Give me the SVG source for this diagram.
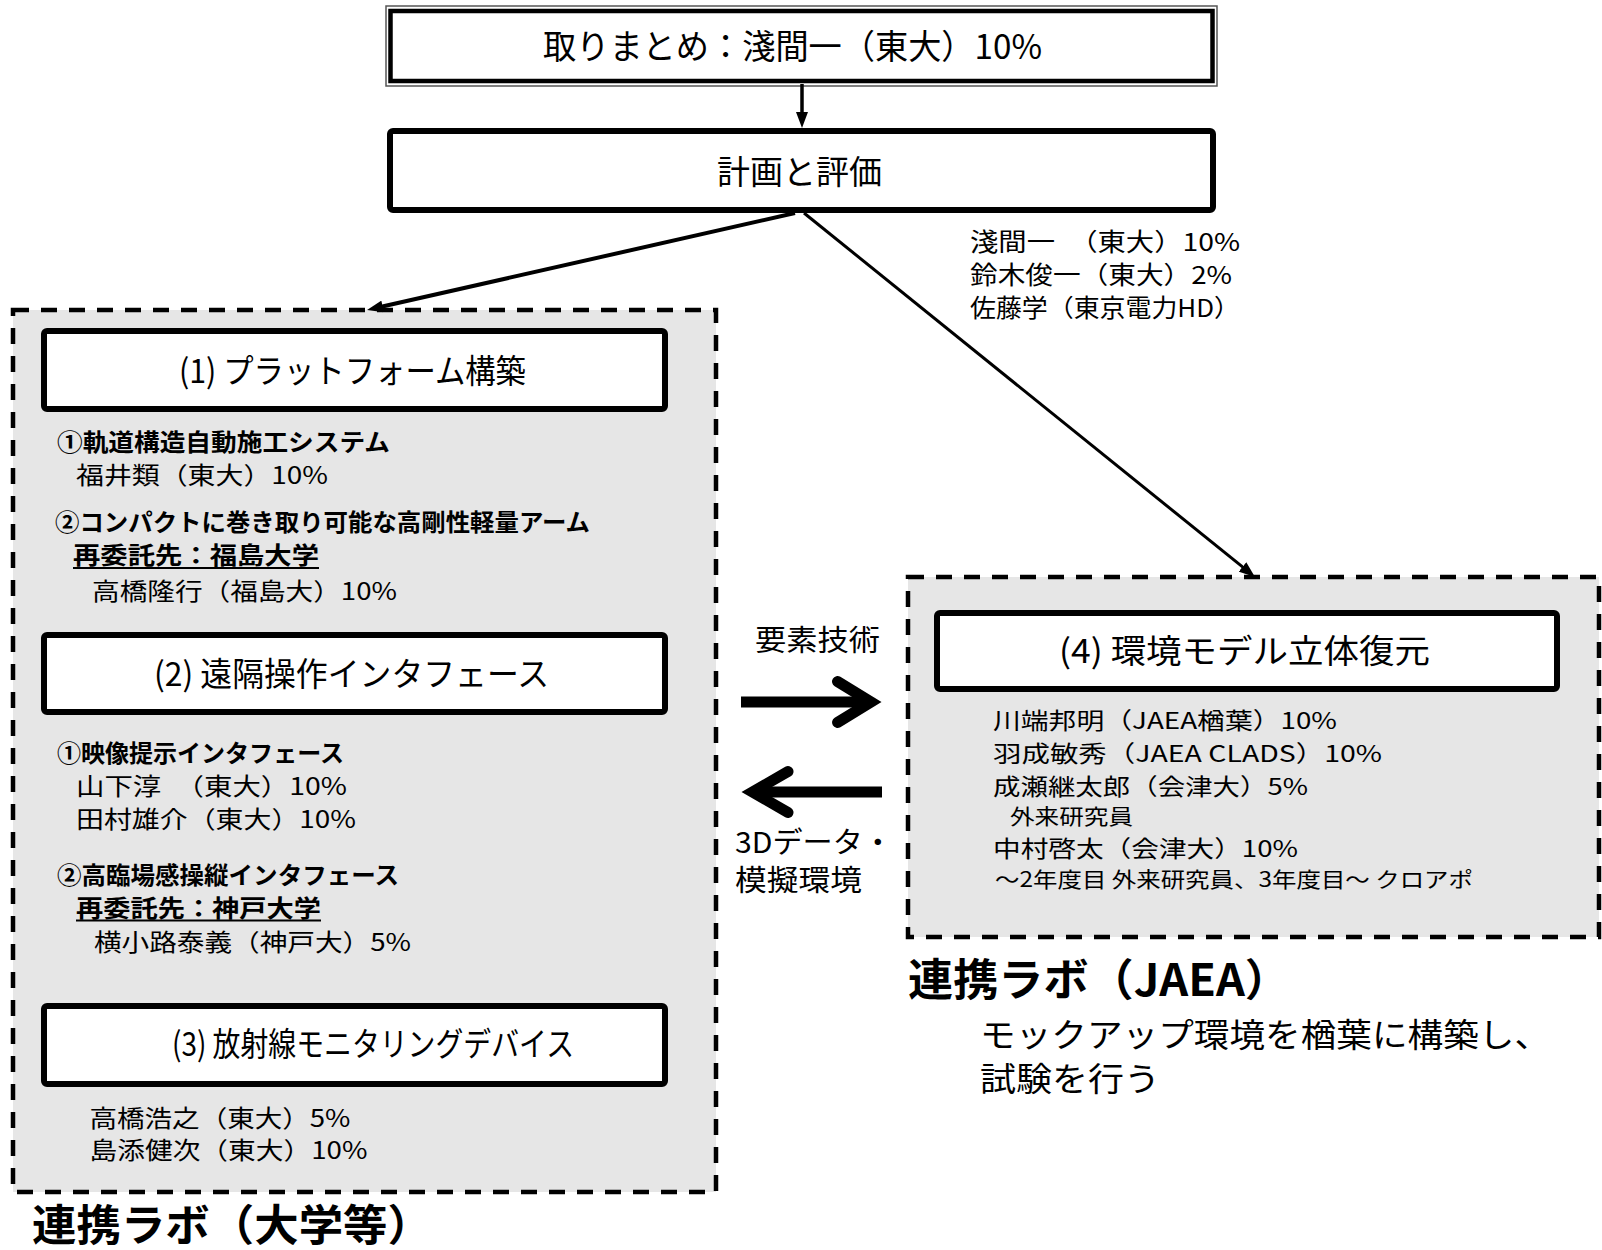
<svg xmlns="http://www.w3.org/2000/svg" width="1602" height="1250" viewBox="0 0 1602 1250">
<style>
.t{font-family:"Noto Sans CJK JP","Noto Sans",sans-serif;fill:#000}
.b{font-weight:700}
.box{fill:#fff;stroke:#000;stroke-width:6}
.lab{fill:#e6e6e6;stroke:#000;stroke-width:4.5;stroke-dasharray:16 12}
.c{fill:none;stroke:#000}
.thick{fill:none;stroke:#000;stroke-width:11}
.ul{stroke:#000;stroke-width:2}
</style>
<defs>
<marker id="ah" markerUnits="userSpaceOnUse" viewBox="0 0 16 12" refX="6" refY="6" markerWidth="16" markerHeight="12" orient="auto">
<path d="M0,0 L16,6 L0,12 z" fill="#000"/>
</marker>
</defs>
<rect width="1602" height="1250" fill="#fff"/>

<g id="lab-univ">
<rect class="lab" x="13" y="310" width="703" height="882"/>
<text class="t b" x="32" y="1241" font-size="43" textLength="400" lengthAdjust="spacingAndGlyphs">連携ラボ（大学等）</text>
</g>

<g id="lab-jaea">
<rect class="lab" x="908" y="577" width="691" height="360"/>
<text class="t b" x="908" y="996" font-size="44" textLength="382" lengthAdjust="spacingAndGlyphs">連携ラボ（JAEA）</text>
<text class="t" x="980" y="1047" font-size="33" textLength="570" lengthAdjust="spacingAndGlyphs">モックアップ環境を楢葉に構築し、</text>
<text class="t" x="980" y="1091" font-size="33" textLength="180" lengthAdjust="spacingAndGlyphs">試験を行う</text>
</g>

<g id="n-top">
<rect x="386" y="6" width="831" height="80" fill="#fff" stroke="#555" stroke-width="1.5"/>
<rect x="390.5" y="11" width="822" height="70" fill="#fff" stroke="#000" stroke-width="4.5"/>
<text class="t" x="543" y="59" font-size="34" textLength="499" lengthAdjust="spacingAndGlyphs">取りまとめ：淺間一（東大）10%</text>
</g>

<g id="n-plan">
<rect class="box" x="390" y="131" width="823" height="79" rx="3"/>
<text class="t" x="717" y="183.5" font-size="33" textLength="165" lengthAdjust="spacingAndGlyphs">計画と評価</text>
</g>

<g id="plan-members">
<text class="t" x="970" y="250.5" font-size="24.5" textLength="270" lengthAdjust="spacingAndGlyphs">淺間一　（東大）10%</text>
<text class="t" x="970" y="283.5" font-size="24.5" textLength="262" lengthAdjust="spacingAndGlyphs">鈴木俊一（東大）2%</text>
<text class="t" x="970" y="316.5" font-size="24.5" textLength="270" lengthAdjust="spacingAndGlyphs">佐藤学（東京電力HD）</text>
</g>

<g id="n-1">
<rect class="box" x="44" y="331" width="621" height="78" rx="3"/>
<text class="t" x="179" y="382.5" font-size="33" textLength="347" lengthAdjust="spacingAndGlyphs">(1) プラットフォーム構築</text>
<text class="t b" x="57" y="450.5" font-size="24" textLength="333" lengthAdjust="spacingAndGlyphs">①軌道構造自動施工システム</text>
<text class="t" x="76" y="483.5" font-size="24" textLength="252" lengthAdjust="spacingAndGlyphs">福井類（東大）10%</text>
<text class="t b" x="55" y="531" font-size="24" textLength="535" lengthAdjust="spacingAndGlyphs">②コンパクトに巻き取り可能な高剛性軽量アーム</text>
<text class="t b" x="73" y="563.5" font-size="24" textLength="246" lengthAdjust="spacingAndGlyphs">再委託先：福島大学</text>
<line class="ul" x1="73" y1="568" x2="319" y2="568"/>
<text class="t" x="92" y="599.5" font-size="24" textLength="305" lengthAdjust="spacingAndGlyphs">高橋隆行（福島大）10%</text>
</g>

<g id="n-2">
<rect class="box" x="44" y="635" width="621" height="77" rx="3"/>
<text class="t" x="154" y="685.5" font-size="33" textLength="395" lengthAdjust="spacingAndGlyphs">(2) 遠隔操作インタフェース</text>
<text class="t b" x="57" y="762" font-size="24" textLength="287" lengthAdjust="spacingAndGlyphs">①映像提示インタフェース</text>
<text class="t" x="76" y="794.5" font-size="24" textLength="271" lengthAdjust="spacingAndGlyphs">山下淳　（東大）10%</text>
<text class="t" x="76" y="827.5" font-size="24" textLength="280" lengthAdjust="spacingAndGlyphs">田村雄介（東大）10%</text>
<text class="t b" x="57" y="883.5" font-size="24" textLength="342" lengthAdjust="spacingAndGlyphs">②高臨場感操縦インタフェース</text>
<text class="t b" x="76" y="916.5" font-size="24" textLength="245" lengthAdjust="spacingAndGlyphs">再委託先：神戸大学</text>
<line class="ul" x1="76" y1="920.5" x2="321" y2="920.5"/>
<text class="t" x="94" y="950.5" font-size="24" textLength="317" lengthAdjust="spacingAndGlyphs">横小路泰義（神戸大）5%</text>
</g>

<g id="n-3">
<rect class="box" x="44" y="1006" width="621" height="78" rx="3"/>
<text class="t" x="172" y="1055.5" font-size="33" textLength="402" lengthAdjust="spacingAndGlyphs">(3) 放射線モニタリングデバイス</text>
<text class="t" x="89.5" y="1126.5" font-size="24" textLength="261" lengthAdjust="spacingAndGlyphs">高橋浩之（東大）5%</text>
<text class="t" x="89.5" y="1158.5" font-size="24" textLength="278" lengthAdjust="spacingAndGlyphs">島添健次（東大）10%</text>
</g>

<g id="n-4">
<rect class="box" x="937" y="613" width="620" height="76" rx="3"/>
<text class="t" x="1059" y="662.5" font-size="33" textLength="371" lengthAdjust="spacingAndGlyphs">(4) 環境モデル立体復元</text>
<text class="t" x="993" y="729" font-size="23" textLength="344" lengthAdjust="spacingAndGlyphs">川端邦明（JAEA楢葉）10%</text>
<text class="t" x="993" y="761.5" font-size="23" textLength="389" lengthAdjust="spacingAndGlyphs">羽成敏秀（JAEA CLADS）10%</text>
<text class="t" x="993" y="795" font-size="23" textLength="315" lengthAdjust="spacingAndGlyphs">成瀬継太郎（会津大）5%</text>
<text class="t" x="1010" y="823.5" font-size="21" textLength="123" lengthAdjust="spacingAndGlyphs">外来研究員</text>
<text class="t" x="993" y="856.5" font-size="23" textLength="305" lengthAdjust="spacingAndGlyphs">中村啓太（会津大）10%</text>
<text class="t" x="995" y="887" font-size="21" textLength="478" lengthAdjust="spacingAndGlyphs">～2年度目 外来研究員、3年度目～ クロアポ</text>
</g>

<g id="connectors">
<line class="c" x1="802" y1="84" x2="802" y2="118" stroke-width="3.5" marker-end="url(#ah)"/>
<line class="c" x1="795" y1="213" x2="376.8" y2="307.8" stroke-width="4" marker-end="url(#ah)"/>
<line class="c" x1="804" y1="213" x2="1247.2" y2="570.7" stroke-width="3" marker-end="url(#ah)"/>
<g id="exchange">
<line class="thick" x1="741" y1="702" x2="866" y2="702"/>
<polyline class="thick" points="837.5,681.5 871,702 837.5,722.5" stroke-linecap="round"/>
<line class="thick" x1="882" y1="792" x2="757" y2="792"/>
<polyline class="thick" points="788,771.5 752.5,792 788,812.5" stroke-linecap="round"/>
<text class="t" x="755" y="651" font-size="29" textLength="125" lengthAdjust="spacingAndGlyphs">要素技術</text>
<text class="t" x="735" y="853" font-size="29" textLength="158" lengthAdjust="spacingAndGlyphs">3Dデータ・</text>
<text class="t" x="735" y="891" font-size="29" textLength="127" lengthAdjust="spacingAndGlyphs">模擬環境</text>
</g>
</g>
</svg>
